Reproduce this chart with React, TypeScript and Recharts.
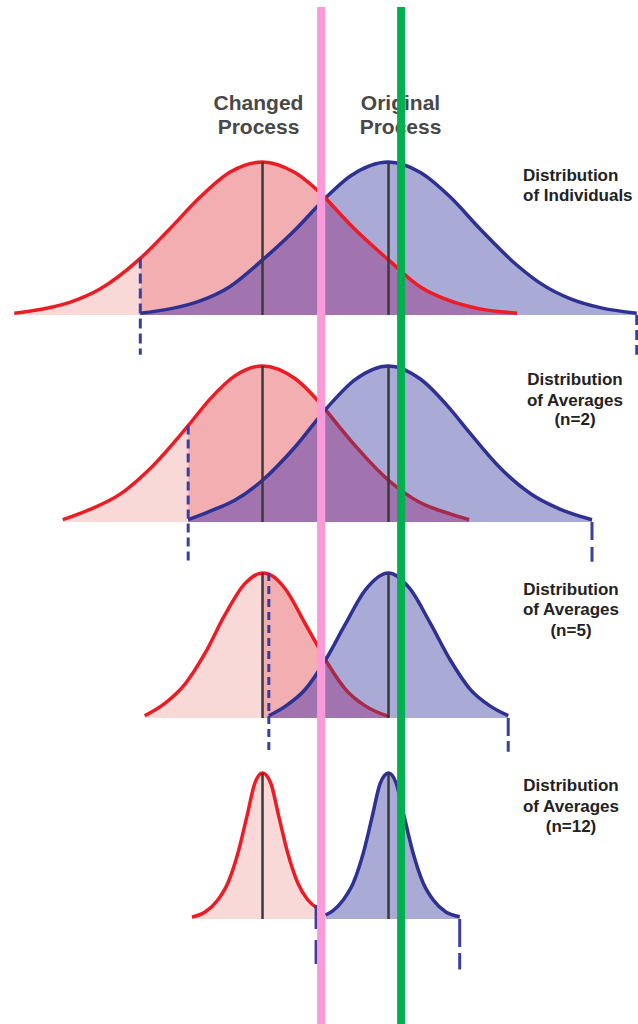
import React from 'react';
import { ComposedChart, Area, XAxis, YAxis, ReferenceLine } from 'recharts';

// ---------------- data ----------------
// x: process measurement; y: relative frequency (peak of individuals = 100)
const MEAN_CHANGED = 50;
const MEAN_ORIGINAL = 70;

// Distribution of individuals
const IND_X = [10.6, 14.7, 19.4, 24.2, 30.6, 35.3, 40.1, 44.8, 50, 55.2, 60, 63.9, 70, 75.0, 79.8, 84.5, 90.4, 94.0, 98.8, 103.6, 109.4];
const IND_CHANGED = [1.2, 3.6, 8.3, 17.0, 37, 56.4, 77.1, 93.3, 100, 92.9, 76.5, 59.2, 36, 18.5, 9.2, 4.0, 1.2, null, null, null, null];
const IND_ORIGINAL = [null, null, null, null, 1.2, 4.0, 9.2, 18.5, 36, 55.7, 76.5, 90.7, 100, 93.3, 77.1, 56.4, 32.5, 21.0, 10.7, 4.8, 1.2];

// Distribution of averages (n=2)
const AVG2_X = [18.3, 22.6, 27.4, 32.1, 38.2, 41.7, 45.6, 50, 55.2, 60, 64.7, 70, 75.0, 79.8, 82.8, 87.7, 92.5, 97.2, 102.3];
const AVG2_CHANGED = [1.5, 8.2, 18.2, 34.7, 63, 80.5, 95.5, 102, 93.6, 73.5, 49.9, 27.3, 12.7, 5.3, 1.5, null, null, null, null];
const AVG2_ORIGINAL = [null, null, null, null, 1.5, 7.1, 14.2, 27.3, 49.2, 73.5, 93.1, 102, 93.6, 73.8, 58.7, 35.4, 18.6, 8.4, 1.5];

// Distribution of averages (n=5)
const AVG5_X = [31.3, 34.5, 37.7, 40.9, 44.0, 47.2, 50, 51.0, 53.6, 56.7, 60, 63.1, 66.3, 70, 73.4, 76.6, 79.8, 82.9, 86.1, 89.0];
const AVG5_CHANGED = [1.5, 9.6, 22.2, 42.5, 67.2, 87.8, 94.8, 94.0, 84.5, 62.2, 37.9, 19.1, 7.9, 1.0, null, null, null, null, null, null];
const AVG5_ORIGINAL = [null, null, null, null, null, null, null, 1.5, 7.6, 18.3, 37.9, 61.0, 83.6, 94.8, 84.5, 62.2, 37.9, 19.1, 7.9, 1.5];

// Distribution of averages (n=12)
const AVG12_X = [38.8, 40.9, 42.9, 44.5, 46.1, 47.5, 48.8, 50, 51.3, 52.6, 54.0, 55.6, 57.2, 58.7, 60, 61.2, 62.8, 64.4, 66.0, 67.4, 68.7, 70, 71.2, 72.5, 73.9, 75.5, 77.1, 79.1, 81.3];
const AVG12_CHANGED = [1.3, 4.6, 12.4, 23.5, 43.1, 66.7, 88.9, 95.4, 88.9, 66.7, 43.1, 23.5, 12.4, 7.0, null, null, null, null, null, null, null, null, null, null, null, null, null, null, null];
const AVG12_ORIGINAL = [null, null, null, null, null, null, null, null, null, null, null, null, null, null, 2.6, 5.5, 12.4, 23.5, 43.1, 66.7, 88.9, 95.4, 88.9, 66.7, 43.1, 23.5, 12.4, 4.6, 1.5];

// where the two curves cross (null = they do not overlap)
const CROSSINGS = [60, 60, 60, null];

// limits of the original process (dashed)
const LOWER_LIMITS = [30.6, 38.2, 51.0, 58.5];
const UPPER_LIMITS = [109.4, 102.3, 89.0, 81.3];
// height where the lower limit line starts (on the changed curve)
const LOWER_LIMIT_TOPS = [37, 63, 94.8, 9.2];

const TITLES = [
  ['Changed', 'Process'],
  ['Original', 'Process'],
];
const PANEL_LABELS = [
  ['Distribution', 'of Individuals'],
  ['Distribution', 'of Averages', '(n=2)'],
  ['Distribution', 'of Averages', '(n=5)'],
  ['Distribution', 'of Averages', '(n=12)'],
];

// guide lines
const GUIDE_PINK_X = 59.3;
const GUIDE_GREEN_X = 72.0;

// ---------------- layout / style ----------------
const W = 638;
const H = 1024;
const S = 1.53; // px per y unit
const X_DOMAIN: [number, number] = [8.33, 109.6];

const RED = '#ed1c24';
const RED_UNDER = '#a82a4a';
const BLUE = '#2e3192';
const LAVENDER = '#aaaad6';
const PURPLE = '#a174b0';
const PINK = '#f2aeb0';
const LIGHT_PINK = '#f9d8d8';
const MEAN_COLOR = '#3a3a3a';
const DASH_BLUE = '#3a3f9e';

type PanelCfg = {
  x: number[];
  changed: (number | null)[];
  original: (number | null)[];
  baseline: number;
  cut: number;
  redOnTop: boolean;
  lowerBottom: number;
  upperBottom: number;
  dash: string;
  upperDash: string;
  labelX: number;
  labelAnchor: 'start' | 'middle';
  labelBaselines: number[];
};

const PANELS: PanelCfg[] = [
  { x: IND_X, changed: IND_CHANGED, original: IND_ORIGINAL, baseline: 315, cut: LOWER_LIMITS[0], redOnTop: true, lowerBottom: -26, upperBottom: -26, dash: '10 5', upperDash: '10 5', labelX: 523, labelAnchor: 'start', labelBaselines: [181, 201] },
  { x: AVG2_X, changed: AVG2_CHANGED, original: AVG2_ORIGINAL, baseline: 522, cut: LOWER_LIMITS[1], redOnTop: false, lowerBottom: -26, upperBottom: -26, dash: '9 5', upperDash: '18 7', labelX: 575, labelAnchor: 'middle', labelBaselines: [385, 406, 425] },
  { x: AVG5_X, changed: AVG5_CHANGED, original: AVG5_ORIGINAL, baseline: 718, cut: MEAN_CHANGED, redOnTop: false, lowerBottom: -24, upperBottom: -22, dash: '8 5', upperDash: '18 5', labelX: 571, labelAnchor: 'middle', labelBaselines: [595, 615, 636] },
  { x: AVG12_X, changed: AVG12_CHANGED, original: AVG12_ORIGINAL, baseline: 919, cut: 1000, redOnTop: true, lowerBottom: -36, upperBottom: -33, dash: '24 11', upperDash: '28 6', labelX: 571, labelAnchor: 'middle', labelBaselines: [791, 812, 832] },
];

const maxOf = (arr: (number | null)[]) => Math.max(...(arr.filter((v) => v != null) as number[]));

const common = { type: 'monotone' as const, baseValue: 0, dot: false, activeDot: false, isAnimationActive: false };

function Panel({ cfg, idx, guides }: { cfg: PanelCfg; idx: number; guides: boolean }) {
  const cross = CROSSINGS[idx];
  const rows = cfg.x.map((x, i) => {
    const c = cfg.changed[i];
    const o = cfg.original[i];
    const both = c != null && o != null && cross != null;
    return {
      x,
      changed: c,
      original: o,
      tail: c != null && x <= cfg.cut ? c : null,
      main: c != null && x >= cfg.cut ? c : null,
      ovLeft: both && x <= (cross as number) ? o : null,
      ovRight: both && x >= (cross as number) ? c : null,
      redLeft: c != null && (cross == null || x <= cross) ? c : null,
      redRight: c != null && cross != null && x >= cross ? c : null,
    };
  });
  const yDomain: [number, number] = [-(H - cfg.baseline) / S, cfg.baseline / S];
  const redPeak = maxOf(cfg.changed);
  const bluePeak = maxOf(cfg.original);
  const redLines = [
    <Area key="redL" dataKey="redLeft" stroke={RED} strokeWidth={3.5} fill="none" {...common} />,
    <Area key="redR" dataKey="redRight" stroke={cfg.redOnTop ? RED : RED_UNDER} strokeWidth={3.5} fill="none" {...common} />,
  ];
  return (
    <div style={{ position: 'absolute', left: 0, top: 0 }}>
      <ComposedChart width={W} height={H} data={rows} margin={{ top: 0, right: 0, bottom: 0, left: 0 }}>
        <XAxis type="number" dataKey="x" domain={X_DOMAIN} hide allowDataOverflow />
        <YAxis type="number" domain={yDomain} hide allowDataOverflow />
        <Area dataKey="tail" stroke="none" fill={LIGHT_PINK} fillOpacity={1} {...common} />
        <Area dataKey="main" stroke="none" fill={PINK} fillOpacity={1} {...common} />
        <Area dataKey="original" stroke="none" fill={LAVENDER} fillOpacity={1} {...common} />
        <Area dataKey="ovLeft" stroke="none" fill={PURPLE} fillOpacity={1} {...common} />
        <Area dataKey="ovRight" stroke="none" fill={PURPLE} fillOpacity={1} {...common} />
        {!cfg.redOnTop && redLines}
        <Area dataKey="original" stroke={BLUE} strokeWidth={3.5} fill="none" {...common} />
        {cfg.redOnTop && redLines}
        <ReferenceLine segment={[{ x: MEAN_CHANGED, y: 0 }, { x: MEAN_CHANGED, y: redPeak }]} stroke={MEAN_COLOR} strokeWidth={2.5} />
        <ReferenceLine segment={[{ x: MEAN_ORIGINAL, y: 0 }, { x: MEAN_ORIGINAL, y: bluePeak }]} stroke={MEAN_COLOR} strokeWidth={2.5} />
        <ReferenceLine segment={[{ x: LOWER_LIMITS[idx], y: LOWER_LIMIT_TOPS[idx] }, { x: LOWER_LIMITS[idx], y: cfg.lowerBottom }]} stroke={DASH_BLUE} strokeWidth={3} strokeDasharray={cfg.dash} />
        <ReferenceLine segment={[{ x: UPPER_LIMITS[idx], y: 0 }, { x: UPPER_LIMITS[idx], y: cfg.upperBottom }]} stroke={DASH_BLUE} strokeWidth={3} strokeDasharray={cfg.upperDash} />
        {guides && (
          <ReferenceLine segment={[{ x: GUIDE_PINK_X, y: (cfg.baseline - 7) / S }, { x: GUIDE_PINK_X, y: yDomain[0] }]} stroke="#fa9bd8" strokeWidth={8} />
        )}
        {guides && (
          <ReferenceLine segment={[{ x: GUIDE_GREEN_X, y: (cfg.baseline - 7) / S }, { x: GUIDE_GREEN_X, y: yDomain[0] }]} stroke="#00b050" strokeWidth={8} />
        )}
      </ComposedChart>
    </div>
  );
}

const FONT = '"Liberation Sans", Arial, Helvetica, sans-serif';

export default function App() {
  return (
    <div style={{ position: 'absolute', left: 0, top: 0, width: W, height: H, background: '#ffffff', overflow: 'hidden' }}>
      <svg width={W} height={H} style={{ position: 'absolute', left: 0, top: 0 }}>
        {TITLES.map((lines, ti) =>
          lines.map((t, li) => (
            <text
              key={`t${ti}-${li}`}
              x={ti === 0 ? 258.5 : 400.5}
              y={110 + li * 24}
              textAnchor="middle"
              fontFamily={FONT}
              fontWeight="bold"
              fontSize={21}
              fill="#484848"
            >
              {t}
            </text>
          ))
        )}
        {PANEL_LABELS.map((lines, pi) =>
          lines.map((t, li) => (
            <text
              key={`l${pi}-${li}`}
              x={PANELS[pi].labelX}
              y={PANELS[pi].labelBaselines[li]}
              textAnchor={PANELS[pi].labelAnchor}
              fontFamily={FONT}
              fontWeight="bold"
              fontSize={17}
              fill="#222222"
            >
              {t}
            </text>
          ))
        )}
      </svg>
      {PANELS.map((cfg, i) => (
        <Panel key={i} cfg={cfg} idx={i} guides={i === PANELS.length - 1} />
      ))}
    </div>
  );
}
